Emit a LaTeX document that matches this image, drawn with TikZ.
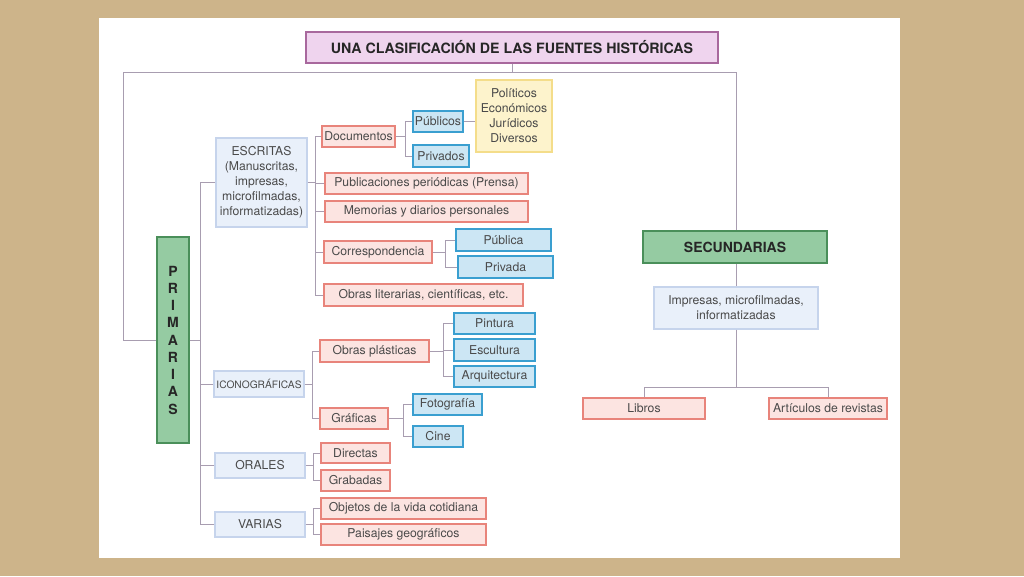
\documentclass[tikz,border=0pt]{standalone}
\usepackage{fontspec}
\setmainfont{TeX Gyre Heros}
\definecolor{parch}{HTML}{CDB48A}
\definecolor{conncol}{HTML}{A89DB0}
\definecolor{pinkfill}{HTML}{FCE4E1}
\definecolor{pinkdraw}{HTML}{E8847B}
\definecolor{bluefill}{HTML}{CCE6F4}
\definecolor{bluedraw}{HTML}{3A9FD0}
\definecolor{lbfill}{HTML}{E9F0FA}
\definecolor{lbdraw}{HTML}{C6D4EC}
\definecolor{yelfill}{HTML}{FDF3CC}
\definecolor{yeldraw}{HTML}{F4DD8A}
\definecolor{grnfill}{HTML}{95CBA2}
\definecolor{grndraw}{HTML}{4A8F5A}
\definecolor{titfill}{HTML}{EFD4EE}
\definecolor{titdraw}{HTML}{A8689D}
\definecolor{txt}{HTML}{4A4A4A}
\tikzset{
  basebox/.style={inner sep=0pt, align=center, text=txt,
    font=\fontsize{12.2}{15}\selectfont, line width=1.1pt},
  pinkbox/.style={basebox, fill=pinkfill, draw=pinkdraw},
  bluebox/.style={basebox, fill=bluefill, draw=bluedraw},
  lbbox/.style={basebox, fill=lbfill, draw=lbdraw},
  yelbox/.style={basebox, fill=yelfill, draw=yeldraw},
  grnbox/.style={basebox, fill=grnfill, draw=grndraw, text=black!85,
    font=\fontsize{14}{17.25}\selectfont\bfseries},
  titbox/.style={basebox, fill=titfill, draw=titdraw, text=black!85,
    font=\fontsize{14.2}{17}\selectfont\bfseries},
  conn/.style={draw=conncol, line width=0.9pt},
  sz/.style 2 args={minimum width=#1pt, minimum height=#2pt}
}
\newcommand\myfork[3]{%
  \coordinate (tk) at (#2,0);
  \draw[conn] (#1.east) -- (#1.east -| tk);
  \foreach \c in {#3} {\draw[conn] (\c.west) -- (\c.west -| tk) -- (#1.east -| tk);}
}
\begin{document}
\begin{tikzpicture}[x=1pt,y=-1pt]
\useasboundingbox (0,0) rectangle (1024,576);
\fill[parch] (0,0) rectangle (1024,576);
\fill[white] (99,18) rectangle (900,558);

% nodes
\node[titbox, sz={412}{31}] (title) at (512,47.5) {UNA CLASIFICACIÓN DE LAS FUENTES HISTÓRICAS};
\node[grnbox, sz={32}{206}] (prim) at (173,340) {P\\R\\I\\M\\A\\R\\I\\A\\S};
\node[lbbox, sz={91}{89}] (escr) at (261.5,182.5) {ESCRITAS\\(Manuscritas,\\impresas,\\microfilmadas,\\informatizadas)};
\node[pinkbox, sz={73}{21}] (docs) at (358.5,136.5) {Documentos};
\node[bluebox, sz={50}{21}] (publicos) at (438,121.5) {Públicos};
\node[bluebox, sz={56}{22}] (privados) at (441,156) {Privados};
\node[yelbox, sz={76}{72}] (yellow) at (514,116) {Políticos\\Económicos\\Jurídicos\\Diversos};
\node[pinkbox, sz={203}{21}] (prensa) at (426.5,183.5) {Publicaciones periódicas (Prensa)};
\node[pinkbox, sz={203}{21}] (memorias) at (426.5,211.5) {Memorias y diarios personales};
\node[pinkbox, sz={108}{22}] (corresp) at (378,252) {Correspondencia};
\node[bluebox, sz={95}{22}] (publica) at (503.5,240) {Pública};
\node[bluebox, sz={95}{22}] (privada) at (505.5,267) {Privada};
\node[pinkbox, sz={199}{22}] (obraslit) at (423.5,295) {Obras literarias, científicas, etc.};
\node[lbbox, sz={90}{26}] (icono) at (259,384) {\fontsize{10.2}{13}\selectfont ICONOGRÁFICAS};
\node[pinkbox, sz={109}{22}] (plast) at (374.5,351) {Obras plásticas};
\node[bluebox, sz={81}{21}] (pintura) at (494.5,323.5) {Pintura};
\node[bluebox, sz={81}{22}] (escultura) at (494.5,350) {Escultura};
\node[bluebox, sz={81}{21}] (arquit) at (494.5,376.5) {Arquitectura};
\node[pinkbox, sz={68}{21}] (graficas) at (354,418.5) {Gráficas};
\node[bluebox, sz={69}{21}] (foto) at (447.5,404.5) {Fotografía};
\node[bluebox, sz={50}{21}] (cine) at (438,436.5) {Cine};
\node[lbbox, sz={90}{25}] (orales) at (260,465.5) {ORALES};
\node[pinkbox, sz={69}{20}] (directas) at (355.5,453) {Directas};
\node[pinkbox, sz={69}{21}] (grabadas) at (355.5,480.5) {Grabadas};
\node[lbbox, sz={90}{25}] (varias) at (260,524.5) {VARIAS};
\node[pinkbox, sz={165}{21}] (objetos) at (403.5,508.5) {Objetos de la vida cotidiana};
\node[pinkbox, sz={165}{21}] (paisajes) at (403.5,534.5) {Paisajes geográficos};
\node[grnbox, sz={184}{32}] (secund) at (735,247) {SECUNDARIAS};
\node[lbbox, sz={164}{42}] (impresas) at (736,308) {Impresas, microfilmadas,\\informatizadas};
\node[pinkbox, sz={122}{21}] (libros) at (644,408.5) {Libros};
\node[pinkbox, sz={118}{21}] (articulos) at (828,408.5) {Artículos de revistas};

% connectors
\coordinate (hl) at (123,72);
\coordinate (hr) at (736,72);
\draw[conn] (title.south) -- (title.south |- hl);
\draw[conn] (prim.west) -| (hl) -- (hr) -- (hr |- secund.north);
\myfork{prim}{200}{escr,icono,orales,varias}
\myfork{escr}{315}{docs,prensa,memorias,corresp,obraslit}
\myfork{docs}{405}{publicos,privados}
\draw[conn] (publicos.east) -- (publicos.east -| yellow.west);
\myfork{corresp}{445}{publica,privada}
\myfork{icono}{312}{plast,graficas}
\myfork{plast}{443}{pintura,escultura,arquit}
\myfork{graficas}{403}{foto,cine}
\myfork{orales}{313}{directas,grabadas}
\myfork{varias}{313}{objetos,paisajes}
\draw[conn] (hr |- secund.south) -- (impresas.north);
\coordinate (sb) at (736,387);
\draw[conn] (impresas.south) -- (sb);
\draw[conn] (libros.north) -- (libros.north |- sb) -- (articulos.north |- sb) -- (articulos.north);
\end{tikzpicture}
\end{document}
